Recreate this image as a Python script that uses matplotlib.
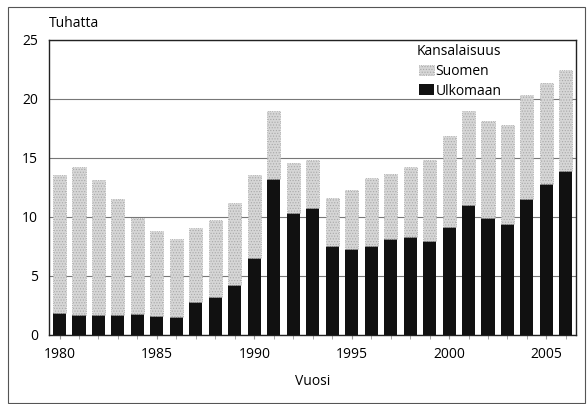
import matplotlib.pyplot as plt
from matplotlib.patches import Rectangle

plt.rcParams['font.family'] = ['Open Sans', 'DejaVu Sans']
plt.rcParams['hatch.linewidth'] = 0.5

vuodet = list(range(1980, 2007))
# tuhansia, kokonaismäärä ja ulkomaan kansalaiset
yhteensa = [13.55, 14.25, 13.1, 11.5, 9.9, 8.8, 8.1, 9.1, 9.7, 11.2,
            13.55, 18.95, 14.55, 14.8, 11.6, 12.25, 13.3, 13.6, 14.2, 14.8,
            16.9, 18.95, 18.1, 17.8, 20.3, 21.35, 22.45]
ulkomaan = [1.9, 1.65, 1.65, 1.7, 1.8, 1.6, 1.55, 2.8, 3.25, 4.2,
            6.5, 13.2, 10.3, 10.8, 7.55, 7.3, 7.5, 8.1, 8.3, 8.0,
            9.15, 11.0, 9.95, 9.4, 11.5, 12.8, 13.9]
suomen = [t - u for t, u in zip(yhteensa, ulkomaan)]

fig = plt.figure(figsize=(5.87, 4.04), dpi=100)
ax = fig.add_axes([0.0835, 0.171, 0.8975, 0.730])

# kehys koko kuvan ympärille
fig.patches.append(Rectangle((0.013, 0.003), 0.984, 0.98, transform=fig.transFigure,
                             fill=False, edgecolor='#555555', linewidth=0.8))

ax.bar(vuodet, ulkomaan, width=0.67, color='#111111', label='Ulkomaan', zorder=3)
ax.bar(vuodet, suomen, bottom=ulkomaan, width=0.67, facecolor='#d6d6d6',
       edgecolor='#a8a8a8', hatch='......', linewidth=0.6, linestyle=':',
       label='Suomen', zorder=3)

ax.set_xlim(1979.46, 2006.51)
ax.set_ylim(0, 25)
ax.set_yticks([0, 5, 10, 15, 20, 25])
ax.set_xticks(range(1980, 2006, 5))
ax.set_xticks(vuodet, minor=True)
ax.tick_params(axis='y', length=0, labelsize=10, pad=8)
ax.tick_params(axis='x', which='major', length=3, color='#999999', labelsize=10, pad=6)
ax.tick_params(axis='x', which='minor', length=3, color='#999999')
ax.grid(axis='y', color='#777777', linewidth=0.8, zorder=0)
ax.set_axisbelow(True)
for s in ax.spines.values():
    s.set_color('#222222')
    s.set_linewidth(1.0)

ax.set_xlabel('Vuosi', fontsize=10, labelpad=8)
ax.text(0, 1.03, 'Tuhatta', transform=ax.transAxes, fontsize=10, ha='left', va='bottom')

h, l = ax.get_legend_handles_labels()
leg = ax.legend(h[::-1], l[::-1], title='Kansalaisuus', frameon=False, fontsize=10,
                title_fontsize=10, loc='upper left', bbox_to_anchor=(0.68, 1.02),
                handlelength=1.1, handleheight=0.8, handletextpad=0.1,
                labelspacing=0.35, borderaxespad=0.3)
leg._legend_box.align = 'right'

fig.savefig('out.png', dpi=100)
